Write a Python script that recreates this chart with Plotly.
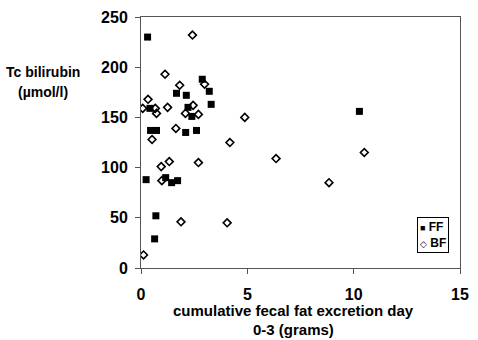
import plotly.graph_objects as go

ff_x = [0.31, 2.88, 1.67, 2.13, 3.21, 3.30, 2.21, 2.39, 0.42, 0.45, 0.73, 2.10, 2.61, 0.24, 1.16, 1.44, 1.72, 0.70, 0.64, 10.27]
ff_y = [230, 188, 174, 172, 176, 163, 160, 151, 159, 137, 137, 135, 137, 88, 90, 85, 87, 52, 29, 156]

bf_x = [2.42, 1.13, 1.82, 2.99, 0.33, 0.08, 0.67, 0.73, 1.25, 2.45, 2.09, 2.70, 4.88, 1.64, 0.52, 4.18,
        0.95, 1.33, 2.70, 0.98, 1.88, 4.05, 0.12, 6.35, 10.50, 8.84]
bf_y = [232, 193, 182, 183, 168, 159, 159, 154, 160, 162, 154, 153, 150, 139, 128, 125,
        101, 106, 105, 87, 46, 45, 13, 109, 115, 85]

x_ticks = [0, 5, 10, 15]
y_ticks = [0, 50, 100, 150, 200, 250]
series_names = ["FF", "BF"]

FONT = "Liberation Sans, Arial, sans-serif"

fig = go.Figure()
fig.add_trace(go.Scatter(x=ff_x, y=ff_y, mode="markers", name=series_names[0],
                         marker=dict(symbol="square", size=7, color="black", line=dict(width=0))))
fig.add_trace(go.Scatter(x=bf_x, y=bf_y, mode="markers", name=series_names[1],
                         marker=dict(symbol="diamond-open", size=6, color="black", line=dict(width=1.6))))

axis_common = dict(showgrid=False, zeroline=False, showline=True, linecolor="#555555", linewidth=1,
                   mirror=True, ticks="outside", ticklen=5, tickcolor="#555555",
                   tickfont=dict(family=FONT, size=16, color="black"))

fig.update_xaxes(range=[0, 15], tickvals=x_ticks, ticktext=[f"<b>{v}</b>" for v in x_ticks],
                 ticklabelstandoff=7, **axis_common)
fig.update_yaxes(range=[0, 250], tickvals=y_ticks, ticktext=[f"<b>{v}</b>" for v in y_ticks],
                 ticklabelstandoff=4, **axis_common)

ann_font = dict(family=FONT, size=15, color="black")
ytitle_font = dict(family=FONT, size=14, color="black")
legend_text = (f"<span style='font-size:9px'>■</span> <b>{series_names[0]}</b><br>"
               f"<span style='font-size:9px'>◇</span> <b>{series_names[1]}</b>")
fig.update_layout(
    width=478, height=340,
    margin=dict(l=141, r=12, t=9, b=72),
    plot_bgcolor="white", paper_bgcolor="white",
    showlegend=False,
    annotations=[
        dict(text="<b>cumulative fecal fat excretion day</b>", x=0.479, y=-0.170, xref="paper", yref="paper",
             xanchor="center", yanchor="middle", showarrow=False, font=ann_font),
        dict(text="<b>0-3 (grams)</b>", x=0.479, y=-0.247, xref="paper", yref="paper",
             xanchor="center", yanchor="middle", showarrow=False, font=ann_font),
        dict(text="<b>Tc bilirubin</b>", x=-0.3077, y=0.780, xref="paper", yref="paper",
             xanchor="center", yanchor="middle", showarrow=False, font=ytitle_font),
        dict(text="<b>(µmol/l)</b>", x=-0.3077, y=0.703, xref="paper", yref="paper",
             xanchor="center", yanchor="middle", showarrow=False, font=ytitle_font),
        dict(text=legend_text, x=0.966, y=0.205, xref="paper", yref="paper",
             xanchor="right", yanchor="top", showarrow=False, align="left",
             font=dict(family=FONT, size=12, color="black"),
             bordercolor="black", borderwidth=1, borderpad=2, bgcolor="white"),
    ],
)

fig.write_html("out.html", config={"displayModeBar": False},
               post_script="document.body.style.margin='0';document.body.style.overflow='hidden';")
